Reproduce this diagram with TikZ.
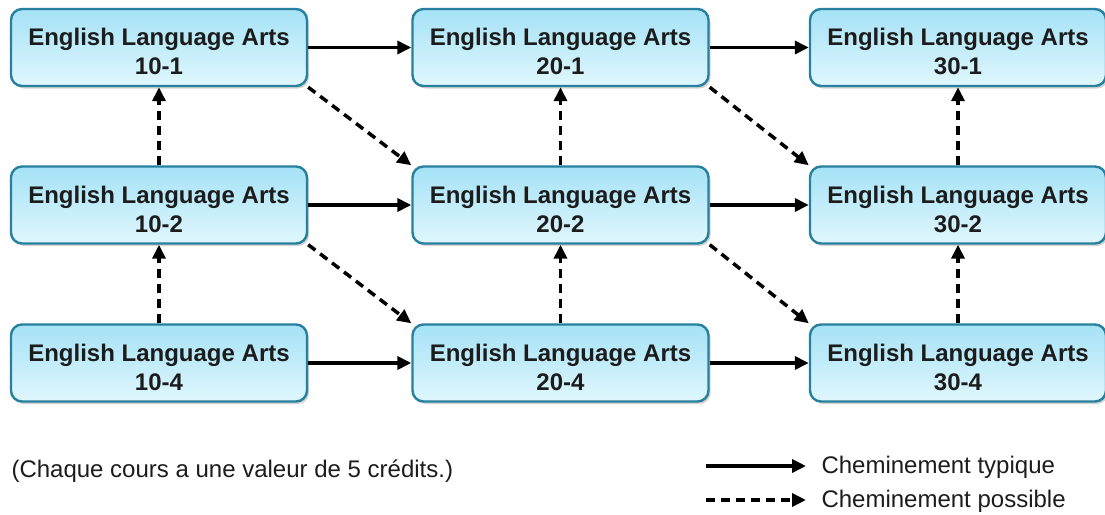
\documentclass[tikz,border=0pt]{standalone}
\usepackage{fontspec}
\setmainfont{Liberation Sans}
\usetikzlibrary{arrows.meta}
\usetikzlibrary{shadows}
\usetikzlibrary{positioning}

\definecolor{boxedge}{RGB}{38,128,158}
\definecolor{boxtop}{RGB}{165,226,246}
\definecolor{boxbot}{RGB}{224,247,253}
\definecolor{ink}{RGB}{28,28,28}

\tikzset{
  course/.style={draw=boxedge, line width=2.4pt, rounded corners=11pt,
    top color=boxtop, bottom color=boxbot, text=ink,
    minimum width=296pt, minimum height=77pt, align=center,
    text height=54pt, text depth=0pt,
    font=\fontsize{24}{29}\selectfont\bfseries,
    drop shadow={shadow xshift=2pt, shadow yshift=-2.5pt, opacity=0.35}},
  typical/.style={line width=3.5pt, -{Triangle[length=14pt,width=13pt]}},
  possible/.style={typical, dash pattern=on 9pt off 6pt},
  legend/.style={anchor=west, text=ink, font=\fontsize{24}{29}\selectfont},
}

\begin{document}
\begin{tikzpicture}[x=1pt, y=-1pt]
    \useasboundingbox (0,0) rectangle (1105,514);
    % Courses, one row per stream
    \node[course] (e101) at (159,47.5) {English Language Arts\\10-1};
    \node[course] (e201) at (560.5,47.5) {English Language Arts\\20-1};
    \node[course] (e301) at (958,47.5) {English Language Arts\\30-1};
    \node[course] (e102) at (159,205) {English Language Arts\\10-2};
    \node[course] (e202) at (560.5,205) {English Language Arts\\20-2};
    \node[course] (e302) at (958,205) {English Language Arts\\30-2};
    \node[course] (e104) at (159,363) {English Language Arts\\10-4};
    \node[course] (e204) at (560.5,363) {English Language Arts\\20-4};
    \node[course] (e304) at (958,363) {English Language Arts\\30-4};
    % Typical path
    \draw[typical] (e101) -- (e201);
    \draw[typical] (e201) -- (e301);
    \draw[typical] (e102) -- (e202);
    \draw[typical] (e202) -- (e302);
    \draw[typical] (e104) -- (e204);
    \draw[typical] (e204) -- (e304);
    % Possible path, up one level
    \draw[possible] (e102.north) -- (e101.south);
    \draw[possible] (e104.north) -- (e102.south);
    \draw[possible] (e202.north) -- (e201.south);
    \draw[possible] (e204.north) -- (e202.south);
    \draw[possible] (e302.north) -- (e301.south);
    \draw[possible] (e304.north) -- (e302.south);
    % Possible path, down one level
    \draw[possible] (e101.south east) -- (e202.north west);
    \draw[possible] (e102.south east) -- (e204.north west);
    \draw[possible] (e201.south east) -- (e302.north west);
    \draw[possible] (e202.south east) -- (e304.north west);
    % Note and legend
    \node[legend] (note) at (8,471) {(Chaque cours a une valeur de 5 crédits.)};
    \coordinate (typA) at (706,466);
    \coordinate (typB) at (806,466);
    \coordinate (posA) at (706,500);
    \coordinate (posB) at (806,500);
    \draw[typical] (typA) -- (typB);
    \draw[possible] (posA) -- (posB);
    \node[legend] (typtext) at (818,467) {Cheminement typique};
    \node[legend] (postext) at (818,501) {Cheminement possible};
\end{tikzpicture}
\end{document}
